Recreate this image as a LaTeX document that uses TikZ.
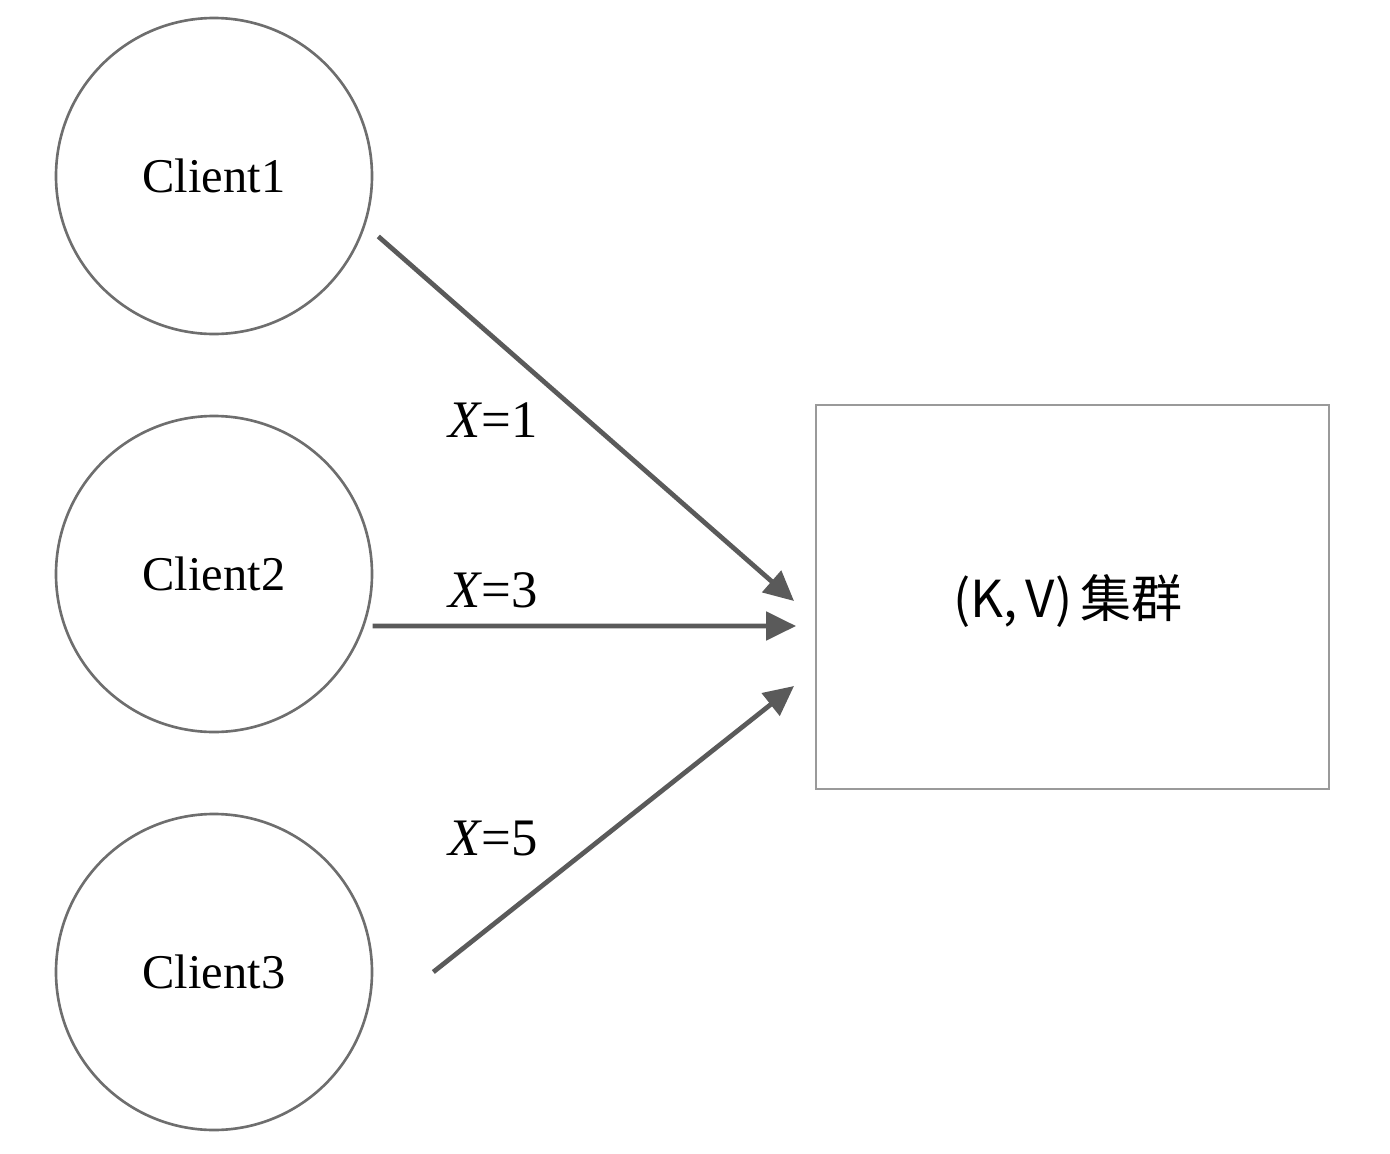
\documentclass[tikz,border=0pt]{standalone}
\usepackage{fontspec}
\setmainfont{Liberation Serif}
\newfontfamily\cjk{Noto Sans CJK SC}
\usetikzlibrary{arrows.meta, positioning, calc}
\definecolor{linegray}{HTML}{5A5A5A}
\definecolor{rimgray}{HTML}{6E6E6E}
\definecolor{boxgray}{HTML}{9A9A9A}

\begin{document}
\begin{tikzpicture}[
    client/.style={circle, draw=rimgray, line width=0.75pt, minimum size=3.16cm,
                   inner sep=0pt, font=\fontsize{13.8}{16}\selectfont},
    store/.style={draw=boxgray, line width=0.55pt, minimum width=5.13cm,
                  minimum height=3.84cm, inner sep=0pt},
    lbl/.style={font=\fontsize{15}{17}\selectfont},
    arr/.style={-{Triangle[length=8.5pt, width=8pt]}, line width=1.35pt, linegray}
  ]
    \useasboundingbox (0,0) rectangle (13.9,-11.54);
    \node[client] (C1) at (2.14,-1.76) {Client1};
    \node[client] (C2) at (2.14,-5.74) {Client2};
    \node[client] (C3) at (2.14,-9.72) {Client3};
    \node[store] (KV) at (10.725,-5.97) {};
    \node[font=\cjk\fontsize{14.5}{16}\selectfont] (KVtxt) at (10.68,-6.01) {(K,\,V)\,集群};

    % arrow ends
    \coordinate (S3) at ([xshift=0.6cm]C3.east);
    \coordinate (T1) at ([xshift=-0.21cm, yshift=-0.04cm]KV.west);
    \coordinate (T2) at ([xshift=-0.19cm, yshift=-0.29cm]KV.west);
    \coordinate (T3) at ([xshift=-0.21cm, yshift=-0.89cm]KV.west);

    \draw[arr, shorten <=0.17cm] (C1.-18) -- (T1);
    \draw[arr, shorten <=0.08cm] (C2.-19) -- (T2);
    \draw[arr] (S3) -- (T3);

    \node[lbl] (L1) at (4.93,-4.20) {\textit{X}=1};
    \node[lbl] (L2) at (4.93,-5.90) {\textit{X}=3};
    \node[lbl] (L3) at (4.93,-8.38) {\textit{X}=5};
  \end{tikzpicture}
\end{document}
